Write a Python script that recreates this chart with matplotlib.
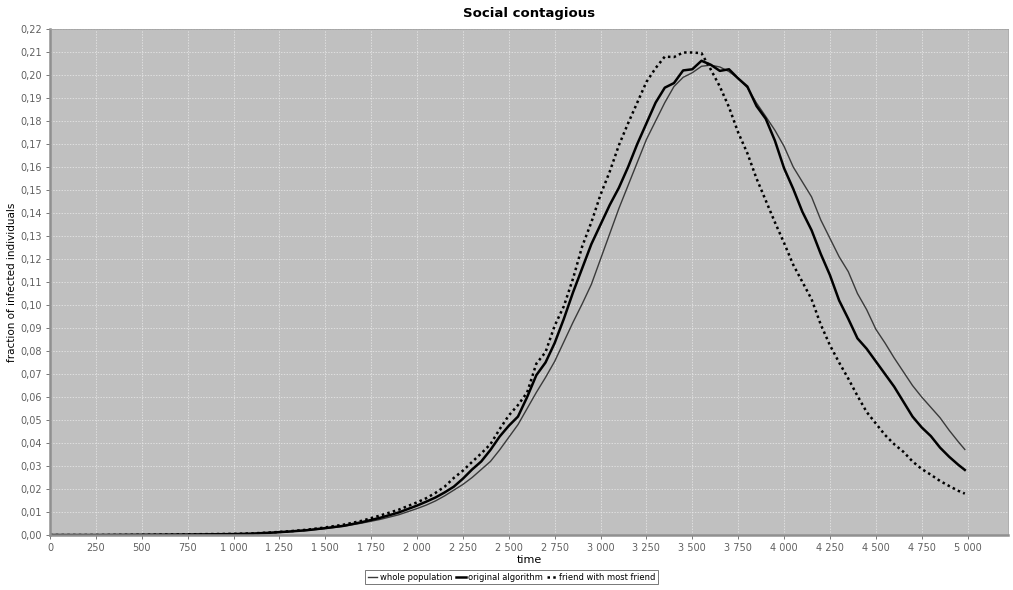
import matplotlib
matplotlib.use("Agg")
import matplotlib.pyplot as plt
from matplotlib.ticker import MultipleLocator, FuncFormatter

# time points (coarser at the flat start, finer where the curves move)
time = [0, 250, 500, 750, 1000, 1100, 1200, 1300, 1400, 1500, 1600, 1700, 1800, 1900,
        2000, 2050, 2100, 2150, 2200, 2250, 2300, 2350, 2400, 2450, 2500, 2550, 2600,
        2650, 2700, 2750, 2800, 2850, 2900, 2950, 3000, 3050, 3100, 3150, 3200, 3250,
        3300, 3350, 3400, 3450, 3500, 3550, 3600, 3650, 3700, 3750, 3800, 3850, 3900,
        3950, 4000, 4050, 4100, 4150, 4200, 4250, 4300, 4350, 4400, 4450, 4500, 4550,
        4600, 4650, 4700, 4750, 4800, 4850, 4900, 4950, 4985]

whole_population = [0.0, 0.0, 0.0001, 0.0002, 0.0004, 0.0006, 0.0009, 0.0014, 0.0020, 0.0028,
                    0.0038, 0.0052, 0.0068, 0.0088,
                    0.0115, 0.0130, 0.0148, 0.0170, 0.0195, 0.0220, 0.0250, 0.0285, 0.0320,
                    0.0370, 0.0425, 0.0480, 0.0550, 0.0620, 0.0685, 0.0755, 0.0840, 0.0925,
                    0.1005, 0.1090, 0.1200, 0.1310, 0.1420, 0.1520, 0.1620, 0.1720, 0.1800,
                    0.1880, 0.1950, 0.1990, 0.2010, 0.2038, 0.2043, 0.2035, 0.2015, 0.1985,
                    0.1945, 0.1878, 0.1820, 0.1760, 0.1690, 0.1600, 0.1535, 0.1470, 0.1370,
                    0.1290, 0.1210, 0.1145, 0.1050, 0.0980, 0.0895, 0.0835, 0.0770, 0.0710,
                    0.0650, 0.0600, 0.0555, 0.0510, 0.0455, 0.0405, 0.0372]

original_algorithm = [0.0, 0.0, 0.0001, 0.0002, 0.0004, 0.0006, 0.0010, 0.0015, 0.0021, 0.0030,
                      0.0040, 0.0056, 0.0075, 0.0098,
                      0.0128, 0.0145, 0.0163, 0.0185, 0.0210, 0.0245, 0.0285, 0.0320, 0.0370,
                      0.0428, 0.0475, 0.0515, 0.0600, 0.0695, 0.0750, 0.0835, 0.0940, 0.1055,
                      0.1160, 0.1265, 0.1350, 0.1435, 0.1510, 0.1600, 0.1700, 0.1790, 0.1880,
                      0.1945, 0.1965, 0.2020, 0.2025, 0.2062, 0.2045, 0.2018, 0.2025, 0.1985,
                      0.1950, 0.1865, 0.1810, 0.1715, 0.1595, 0.1505, 0.1405, 0.1325, 0.1222,
                      0.1130, 0.1020, 0.0940, 0.0855, 0.0810, 0.0755, 0.0700, 0.0645, 0.0580,
                      0.0515, 0.0468, 0.0430, 0.0380, 0.0340, 0.0305, 0.0283]

most_friends = [0.0, 0.0, 0.0001, 0.0003, 0.0005, 0.0007, 0.0011, 0.0016, 0.0023, 0.0033,
                0.0045, 0.0062, 0.0085, 0.0110,
                0.0142, 0.0160, 0.0183, 0.0210, 0.0248, 0.0280, 0.0318, 0.0355, 0.0395,
                0.0460, 0.0520, 0.0565, 0.0620, 0.0745, 0.0795, 0.0910, 0.0995, 0.1115,
                0.1255, 0.1360, 0.1480, 0.1580, 0.1695, 0.1790, 0.1880, 0.1970, 0.2030,
                0.2080, 0.2078, 0.2098, 0.2098, 0.2095, 0.2025, 0.1950, 0.1860, 0.1750,
                0.1660, 0.1550, 0.1455, 0.1360, 0.1270, 0.1175, 0.1100, 0.1025, 0.0915,
                0.0825, 0.0750, 0.0680, 0.0605, 0.0535, 0.0485, 0.0435, 0.0395, 0.0362,
                0.0320, 0.0287, 0.0262, 0.0235, 0.0213, 0.0192, 0.0180]

fig = plt.figure(figsize=(10.13, 5.90), dpi=100)
ax = fig.add_axes([0.0494, 0.0932, 0.9456, 0.8576])
ax.set_facecolor("#c0c0c0")

ax.plot(time, whole_population, color="#3a3a3a", lw=1.0, label="whole population")
ax.plot(time, original_algorithm, color="black", lw=1.8, label="original algorithm")
ax.plot(time, most_friends, color="black", lw=1.8, linestyle=(0, (1, 1.3)),
        label="friend with most friend")

ax.set_xlim(0, 5220)
ax.set_ylim(0, 0.22)
ax.xaxis.set_major_locator(MultipleLocator(250))
ax.yaxis.set_major_locator(MultipleLocator(0.01))
ax.xaxis.set_major_formatter(FuncFormatter(lambda v, p: f"{int(round(v)):,}".replace(",", " ")))
ax.yaxis.set_major_formatter(FuncFormatter(lambda v, p: f"{v:.2f}".replace(".", ",")))
ax.tick_params(labelsize=7, colors="#606060", length=3, width=0.6, pad=3)
ax.grid(True, color="#ececec", lw=0.5, linestyle=(0, (2, 2)))
ax.set_axisbelow(True)

for side in ["top", "right"]:
    ax.spines[side].set_color("#a0a0a0")
    ax.spines[side].set_linewidth(0.6)
for side in ["left", "bottom"]:
    ax.spines[side].set_color("#909090")
    ax.spines[side].set_linewidth(1.8)

ax.set_title("Social contagious", fontsize=9.5, fontweight="bold", pad=9)
ax.set_xlabel("time", fontsize=8, labelpad=1)
ax.set_ylabel("fraction of infected individuals", fontsize=7.5, labelpad=2)

leg = fig.legend(loc="center", bbox_to_anchor=(0.505, 0.022), ncol=3, fontsize=6,
                 frameon=True, fancybox=False, edgecolor="#555555", handlelength=1.1,
                 handletextpad=0.3, columnspacing=0.5, borderpad=0.35)
leg.get_frame().set_linewidth(0.7)

fig.savefig("out.png", dpi=100)
